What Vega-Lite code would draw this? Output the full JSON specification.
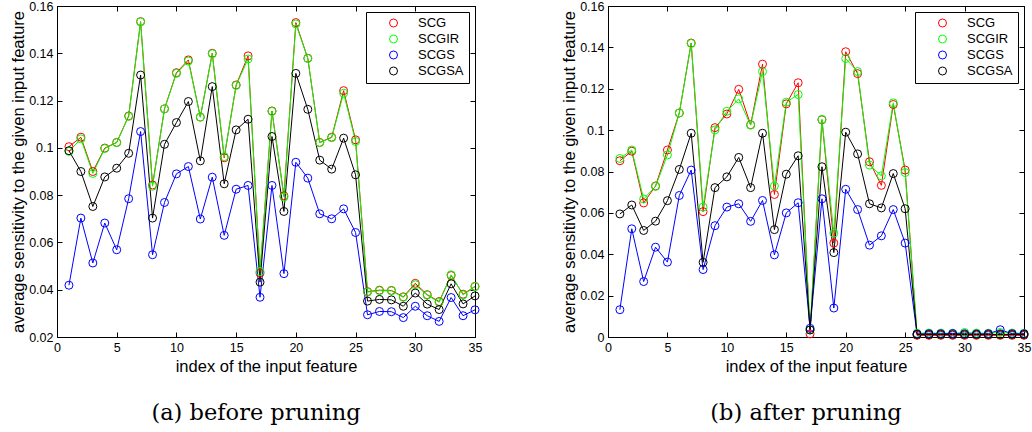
{
"$schema": "https://vega.github.io/schema/vega-lite/v6.json",
"background": "white",
"padding": {"left": 10, "top": -1, "right": 2, "bottom": 5},
"spacing": 78,
"resolve": {"scale": {"color": "independent"}, "legend": {"color": "independent"}},
"config": {
  "view": {"stroke": "black", "strokeWidth": 1},
  "font": "Liberation Sans",
  "axis": {"grid": false, "tickSize": -5, "tickColor": "black", "tickWidth": 1, "domainColor": "black", "domainWidth": 1, "labelColor": "black", "titleColor": "black", "labelFont": "Liberation Sans", "labelFontSize": 12.5, "titleFont": "Liberation Sans", "titleFontSize": 16.5, "titleFontWeight": "normal", "labelPadding": 9, "labelFlush": false, "labelOverlap": false},
  "axisX": {"titlePadding": 5},
  "axisY": {"titlePadding": 2},
  "legend": {"orient": "top-right", "offset": 6, "strokeColor": "black", "strokeWidth": 1, "fillColor": "white", "padding": 5, "symbolOffset": 16, "labelOffset": 18, "labelFont": "Liberation Sans", "labelFontSize": 13, "labelColor": "black", "symbolType": "circle", "symbolSize": 64, "symbolStrokeWidth": 1, "symbolFillColor": "transparent", "rowPadding": 3, "clipHeight": 12},
  "title": {"orient": "bottom", "font": "DejaVu Serif", "fontSize": 22.5, "fontWeight": "normal", "color": "black", "offset": 27, "anchor": "middle", "frame": "group", "dx": -10}
},
"datasets": {
"before": [
{"feature":1,"method":"SCG","value":0.1005},{"feature":2,"method":"SCG","value":0.1045},{"feature":3,"method":"SCG","value":0.0900},{"feature":4,"method":"SCG","value":0.0999},{"feature":5,"method":"SCG","value":0.1023},{"feature":6,"method":"SCG","value":0.1135},{"feature":7,"method":"SCG","value":0.1534},{"feature":8,"method":"SCG","value":0.0843},{"feature":9,"method":"SCG","value":0.1165},{"feature":10,"method":"SCG","value":0.1318},{"feature":11,"method":"SCG","value":0.1372},{"feature":12,"method":"SCG","value":0.1130},{"feature":13,"method":"SCG","value":0.1400},{"feature":14,"method":"SCG","value":0.0958},{"feature":15,"method":"SCG","value":0.1266},{"feature":16,"method":"SCG","value":0.1389},{"feature":17,"method":"SCG","value":0.0470},{"feature":18,"method":"SCG","value":0.1156},{"feature":19,"method":"SCG","value":0.0797},{"feature":20,"method":"SCG","value":0.1530},{"feature":21,"method":"SCG","value":0.1379},{"feature":22,"method":"SCG","value":0.1023},{"feature":23,"method":"SCG","value":0.1045},{"feature":24,"method":"SCG","value":0.1242},{"feature":25,"method":"SCG","value":0.1034},{"feature":26,"method":"SCG","value":0.0392},{"feature":27,"method":"SCG","value":0.0398},{"feature":28,"method":"SCG","value":0.0397},{"feature":29,"method":"SCG","value":0.0370},{"feature":30,"method":"SCG","value":0.0427},{"feature":31,"method":"SCG","value":0.0379},{"feature":32,"method":"SCG","value":0.0350},{"feature":33,"method":"SCG","value":0.0460},{"feature":34,"method":"SCG","value":0.0381},{"feature":35,"method":"SCG","value":0.0414},
{"feature":1,"method":"SCGIR","value":0.0985},{"feature":2,"method":"SCGIR","value":0.1038},{"feature":3,"method":"SCGIR","value":0.0892},{"feature":4,"method":"SCGIR","value":0.0997},{"feature":5,"method":"SCGIR","value":0.1022},{"feature":6,"method":"SCGIR","value":0.1133},{"feature":7,"method":"SCGIR","value":0.1533},{"feature":8,"method":"SCGIR","value":0.0838},{"feature":9,"method":"SCGIR","value":0.1165},{"feature":10,"method":"SCGIR","value":0.1315},{"feature":11,"method":"SCGIR","value":0.1367},{"feature":12,"method":"SCGIR","value":0.1130},{"feature":13,"method":"SCGIR","value":0.1398},{"feature":14,"method":"SCGIR","value":0.0963},{"feature":15,"method":"SCGIR","value":0.1264},{"feature":16,"method":"SCGIR","value":0.1376},{"feature":17,"method":"SCGIR","value":0.0477},{"feature":18,"method":"SCGIR","value":0.1154},{"feature":19,"method":"SCGIR","value":0.0792},{"feature":20,"method":"SCGIR","value":0.1524},{"feature":21,"method":"SCGIR","value":0.1378},{"feature":22,"method":"SCGIR","value":0.1022},{"feature":23,"method":"SCGIR","value":0.1043},{"feature":24,"method":"SCGIR","value":0.1231},{"feature":25,"method":"SCGIR","value":0.1027},{"feature":26,"method":"SCGIR","value":0.0390},{"feature":27,"method":"SCGIR","value":0.0396},{"feature":28,"method":"SCGIR","value":0.0395},{"feature":29,"method":"SCGIR","value":0.0368},{"feature":30,"method":"SCGIR","value":0.0421},{"feature":31,"method":"SCGIR","value":0.0377},{"feature":32,"method":"SCGIR","value":0.0347},{"feature":33,"method":"SCGIR","value":0.0463},{"feature":34,"method":"SCGIR","value":0.0378},{"feature":35,"method":"SCGIR","value":0.0413},
{"feature":1,"method":"SCGS","value":0.0419},{"feature":2,"method":"SCGS","value":0.0703},{"feature":3,"method":"SCGS","value":0.0513},{"feature":4,"method":"SCGS","value":0.0682},{"feature":5,"method":"SCGS","value":0.0569},{"feature":6,"method":"SCGS","value":0.0785},{"feature":7,"method":"SCGS","value":0.1069},{"feature":8,"method":"SCGS","value":0.0548},{"feature":9,"method":"SCGS","value":0.0769},{"feature":10,"method":"SCGS","value":0.0890},{"feature":11,"method":"SCGS","value":0.0921},{"feature":12,"method":"SCGS","value":0.0699},{"feature":13,"method":"SCGS","value":0.0876},{"feature":14,"method":"SCGS","value":0.0630},{"feature":15,"method":"SCGS","value":0.0825},{"feature":16,"method":"SCGS","value":0.0841},{"feature":17,"method":"SCGS","value":0.0368},{"feature":18,"method":"SCGS","value":0.0841},{"feature":19,"method":"SCGS","value":0.0468},{"feature":20,"method":"SCGS","value":0.0939},{"feature":21,"method":"SCGS","value":0.0872},{"feature":22,"method":"SCGS","value":0.0721},{"feature":23,"method":"SCGS","value":0.0700},{"feature":24,"method":"SCGS","value":0.0742},{"feature":25,"method":"SCGS","value":0.0642},{"feature":26,"method":"SCGS","value":0.0294},{"feature":27,"method":"SCGS","value":0.0308},{"feature":28,"method":"SCGS","value":0.0307},{"feature":29,"method":"SCGS","value":0.0282},{"feature":30,"method":"SCGS","value":0.0330},{"feature":31,"method":"SCGS","value":0.0290},{"feature":32,"method":"SCGS","value":0.0266},{"feature":33,"method":"SCGS","value":0.0367},{"feature":34,"method":"SCGS","value":0.0290},{"feature":35,"method":"SCGS","value":0.0315},
{"feature":1,"method":"SCGSA","value":0.0988},{"feature":2,"method":"SCGSA","value":0.0900},{"feature":3,"method":"SCGSA","value":0.0752},{"feature":4,"method":"SCGSA","value":0.0877},{"feature":5,"method":"SCGSA","value":0.0914},{"feature":6,"method":"SCGSA","value":0.0977},{"feature":7,"method":"SCGSA","value":0.1308},{"feature":8,"method":"SCGSA","value":0.0703},{"feature":9,"method":"SCGSA","value":0.1015},{"feature":10,"method":"SCGSA","value":0.1107},{"feature":11,"method":"SCGSA","value":0.1196},{"feature":12,"method":"SCGSA","value":0.0945},{"feature":13,"method":"SCGSA","value":0.1259},{"feature":14,"method":"SCGSA","value":0.0848},{"feature":15,"method":"SCGSA","value":0.1076},{"feature":16,"method":"SCGSA","value":0.1121},{"feature":17,"method":"SCGSA","value":0.0432},{"feature":18,"method":"SCGSA","value":0.1048},{"feature":19,"method":"SCGSA","value":0.0731},{"feature":20,"method":"SCGSA","value":0.1315},{"feature":21,"method":"SCGSA","value":0.1163},{"feature":22,"method":"SCGSA","value":0.0948},{"feature":23,"method":"SCGSA","value":0.0910},{"feature":24,"method":"SCGSA","value":0.1041},{"feature":25,"method":"SCGSA","value":0.0886},{"feature":26,"method":"SCGSA","value":0.0352},{"feature":27,"method":"SCGSA","value":0.0359},{"feature":28,"method":"SCGSA","value":0.0357},{"feature":29,"method":"SCGSA","value":0.0330},{"feature":30,"method":"SCGSA","value":0.0386},{"feature":31,"method":"SCGSA","value":0.0339},{"feature":32,"method":"SCGSA","value":0.0316},{"feature":33,"method":"SCGSA","value":0.0425},{"feature":34,"method":"SCGSA","value":0.0340},{"feature":35,"method":"SCGSA","value":0.0374}
],
"after": [
{"feature":1,"method":"SCG","value":0.0852},{"feature":2,"method":"SCG","value":0.0898},{"feature":3,"method":"SCG","value":0.0648},{"feature":4,"method":"SCG","value":0.0730},{"feature":5,"method":"SCG","value":0.0904},{"feature":6,"method":"SCG","value":0.1083},{"feature":7,"method":"SCG","value":0.1421},{"feature":8,"method":"SCG","value":0.0606},{"feature":9,"method":"SCG","value":0.1012},{"feature":10,"method":"SCG","value":0.1078},{"feature":11,"method":"SCG","value":0.1197},{"feature":12,"method":"SCG","value":0.1026},{"feature":13,"method":"SCG","value":0.1319},{"feature":14,"method":"SCG","value":0.0689},{"feature":15,"method":"SCG","value":0.1127},{"feature":16,"method":"SCG","value":0.1229},{"feature":17,"method":"SCG","value":0.0015},{"feature":18,"method":"SCG","value":0.1050},{"feature":19,"method":"SCG","value":0.0454},{"feature":20,"method":"SCG","value":0.1379},{"feature":21,"method":"SCG","value":0.1273},{"feature":22,"method":"SCG","value":0.0847},{"feature":23,"method":"SCG","value":0.0733},{"feature":24,"method":"SCG","value":0.1124},{"feature":25,"method":"SCG","value":0.0807},{"feature":26,"method":"SCG","value":0.0008},{"feature":27,"method":"SCG","value":0.0008},{"feature":28,"method":"SCG","value":0.0008},{"feature":29,"method":"SCG","value":0.0008},{"feature":30,"method":"SCG","value":0.0008},{"feature":31,"method":"SCG","value":0.0008},{"feature":32,"method":"SCG","value":0.0008},{"feature":33,"method":"SCG","value":0.0008},{"feature":34,"method":"SCG","value":0.0008},{"feature":35,"method":"SCG","value":0.0008},
{"feature":1,"method":"SCGIR","value":0.0863},{"feature":2,"method":"SCGIR","value":0.0904},{"feature":3,"method":"SCGIR","value":0.0667},{"feature":4,"method":"SCGIR","value":0.0728},{"feature":5,"method":"SCGIR","value":0.0880},{"feature":6,"method":"SCGIR","value":0.1083},{"feature":7,"method":"SCGIR","value":0.1419},{"feature":8,"method":"SCGIR","value":0.0628},{"feature":9,"method":"SCGIR","value":0.1001},{"feature":10,"method":"SCGIR","value":0.1091},{"feature":11,"method":"SCGIR","value":0.1151},{"feature":12,"method":"SCGIR","value":0.1024},{"feature":13,"method":"SCGIR","value":0.1283},{"feature":14,"method":"SCGIR","value":0.0730},{"feature":15,"method":"SCGIR","value":0.1135},{"feature":16,"method":"SCGIR","value":0.1172},{"feature":17,"method":"SCGIR","value":0.0034},{"feature":18,"method":"SCGIR","value":0.1052},{"feature":19,"method":"SCGIR","value":0.0502},{"feature":20,"method":"SCGIR","value":0.1346},{"feature":21,"method":"SCGIR","value":0.1283},{"feature":22,"method":"SCGIR","value":0.0831},{"feature":23,"method":"SCGIR","value":0.0779},{"feature":24,"method":"SCGIR","value":0.1132},{"feature":25,"method":"SCGIR","value":0.0795},{"feature":26,"method":"SCGIR","value":0.0018},{"feature":27,"method":"SCGIR","value":0.0019},{"feature":28,"method":"SCGIR","value":0.0019},{"feature":29,"method":"SCGIR","value":0.0018},{"feature":30,"method":"SCGIR","value":0.0022},{"feature":31,"method":"SCGIR","value":0.0019},{"feature":32,"method":"SCGIR","value":0.0018},{"feature":33,"method":"SCGIR","value":0.0022},{"feature":34,"method":"SCGIR","value":0.0019},{"feature":35,"method":"SCGIR","value":0.0018},
{"feature":1,"method":"SCGS","value":0.0132},{"feature":2,"method":"SCGS","value":0.0523},{"feature":3,"method":"SCGS","value":0.0268},{"feature":4,"method":"SCGS","value":0.0434},{"feature":5,"method":"SCGS","value":0.0362},{"feature":6,"method":"SCGS","value":0.0684},{"feature":7,"method":"SCGS","value":0.0807},{"feature":8,"method":"SCGS","value":0.0326},{"feature":9,"method":"SCGS","value":0.0538},{"feature":10,"method":"SCGS","value":0.0628},{"feature":11,"method":"SCGS","value":0.0644},{"feature":12,"method":"SCGS","value":0.0559},{"feature":13,"method":"SCGS","value":0.0660},{"feature":14,"method":"SCGS","value":0.0397},{"feature":15,"method":"SCGS","value":0.0600},{"feature":16,"method":"SCGS","value":0.0649},{"feature":17,"method":"SCGS","value":0.0042},{"feature":18,"method":"SCGS","value":0.0668},{"feature":19,"method":"SCGS","value":0.0140},{"feature":20,"method":"SCGS","value":0.0714},{"feature":21,"method":"SCGS","value":0.0616},{"feature":22,"method":"SCGS","value":0.0444},{"feature":23,"method":"SCGS","value":0.0489},{"feature":24,"method":"SCGS","value":0.0616},{"feature":25,"method":"SCGS","value":0.0454},{"feature":26,"method":"SCGS","value":0.0015},{"feature":27,"method":"SCGS","value":0.0016},{"feature":28,"method":"SCGS","value":0.0016},{"feature":29,"method":"SCGS","value":0.0017},{"feature":30,"method":"SCGS","value":0.0016},{"feature":31,"method":"SCGS","value":0.0015},{"feature":32,"method":"SCGS","value":0.0016},{"feature":33,"method":"SCGS","value":0.0035},{"feature":34,"method":"SCGS","value":0.0016},{"feature":35,"method":"SCGS","value":0.0016},
{"feature":1,"method":"SCGSA","value":0.0595},{"feature":2,"method":"SCGSA","value":0.0638},{"feature":3,"method":"SCGSA","value":0.0515},{"feature":4,"method":"SCGSA","value":0.0560},{"feature":5,"method":"SCGSA","value":0.0659},{"feature":6,"method":"SCGSA","value":0.0810},{"feature":7,"method":"SCGSA","value":0.0985},{"feature":8,"method":"SCGSA","value":0.0361},{"feature":9,"method":"SCGSA","value":0.0722},{"feature":10,"method":"SCGSA","value":0.0774},{"feature":11,"method":"SCGSA","value":0.0868},{"feature":12,"method":"SCGSA","value":0.0722},{"feature":13,"method":"SCGSA","value":0.0985},{"feature":14,"method":"SCGSA","value":0.0519},{"feature":15,"method":"SCGSA","value":0.0787},{"feature":16,"method":"SCGSA","value":0.0876},{"feature":17,"method":"SCGSA","value":0.0034},{"feature":18,"method":"SCGSA","value":0.0823},{"feature":19,"method":"SCGSA","value":0.0408},{"feature":20,"method":"SCGSA","value":0.0990},{"feature":21,"method":"SCGSA","value":0.0885},{"feature":22,"method":"SCGSA","value":0.0644},{"feature":23,"method":"SCGSA","value":0.0624},{"feature":24,"method":"SCGSA","value":0.0790},{"feature":25,"method":"SCGSA","value":0.0620},{"feature":26,"method":"SCGSA","value":0.0012},{"feature":27,"method":"SCGSA","value":0.0012},{"feature":28,"method":"SCGSA","value":0.0012},{"feature":29,"method":"SCGSA","value":0.0012},{"feature":30,"method":"SCGSA","value":0.0012},{"feature":31,"method":"SCGSA","value":0.0012},{"feature":32,"method":"SCGSA","value":0.0012},{"feature":33,"method":"SCGSA","value":0.0012},{"feature":34,"method":"SCGSA","value":0.0012},{"feature":35,"method":"SCGSA","value":0.0012}
]
},
"hconcat": [
{
  "width": 418, "height": 331,
  "data": {"name": "before"},
  "title": {"text": "(a) before pruning"},
  "layer": [
    {"mark": {"type": "line", "strokeWidth": 1},
     "encoding": {
       "x": {"field": "feature", "type": "quantitative", "scale": {"domain": [0, 35], "nice": false, "zero": false}, "axis": {"title": "index of the input feature", "values": [0,5,10,15,20,25,30,35], "format": "d"}},
       "y": {"field": "value", "type": "quantitative", "scale": {"domain": [0.02, 0.16], "nice": false, "zero": false}, "axis": {"title": "average sensitivity to the given input feature", "values": [0.02,0.04,0.06,0.08,0.1,0.12,0.14,0.16], "format": "~g"}},
       "color": {"field": "method", "type": "nominal", "scale": {"domain": ["SCG","SCGIR","SCGS","SCGSA"], "range": ["#ff0000","#00ff00","#0000ff","#000000"]}, "legend": {"title": null, "symbolType": "circle", "symbolFillColor": "transparent", "symbolStrokeWidth": 1, "symbolSize": 64}}
     }},
    {"mark": {"type": "point", "filled": false, "size": 64, "strokeWidth": 1, "opacity": 1},
     "encoding": {
       "x": {"field": "feature", "type": "quantitative", "axis": {"orient": "top", "labels": false, "title": null, "values": [0,5,10,15,20,25,30,35]}},
       "y": {"field": "value", "type": "quantitative", "axis": {"orient": "right", "labels": false, "title": null, "values": [0.02,0.04,0.06,0.08,0.1,0.12,0.14,0.16]}},
       "color": {"field": "method", "type": "nominal", "legend": {"title": null, "symbolType": "circle", "symbolFillColor": "transparent", "symbolStrokeWidth": 1, "symbolSize": 64}}
     }}
  ],
  "resolve": {"axis": {"x": "independent", "y": "independent"}}
},
{
  "width": 416, "height": 331,
  "data": {"name": "after"},
  "title": {"text": "(b) after pruning"},
  "layer": [
    {"mark": {"type": "line", "strokeWidth": 1},
     "encoding": {
       "x": {"field": "feature", "type": "quantitative", "scale": {"domain": [0, 35], "nice": false, "zero": false}, "axis": {"title": "index of the input feature", "values": [0,5,10,15,20,25,30,35], "format": "d"}},
       "y": {"field": "value", "type": "quantitative", "scale": {"domain": [0, 0.16], "nice": false, "zero": false}, "axis": {"title": "average sensitivity to the given input feature", "values": [0,0.02,0.04,0.06,0.08,0.1,0.12,0.14,0.16], "format": "~g"}},
       "color": {"field": "method", "type": "nominal", "scale": {"domain": ["SCG","SCGIR","SCGS","SCGSA"], "range": ["#ff0000","#00ff00","#0000ff","#000000"]}, "legend": {"title": null, "symbolType": "circle", "symbolFillColor": "transparent", "symbolStrokeWidth": 1, "symbolSize": 64}}
     }},
    {"mark": {"type": "point", "filled": false, "size": 64, "strokeWidth": 1, "opacity": 1},
     "encoding": {
       "x": {"field": "feature", "type": "quantitative", "axis": {"orient": "top", "labels": false, "title": null, "values": [0,5,10,15,20,25,30,35]}},
       "y": {"field": "value", "type": "quantitative", "axis": {"orient": "right", "labels": false, "title": null, "values": [0,0.02,0.04,0.06,0.08,0.1,0.12,0.14,0.16]}},
       "color": {"field": "method", "type": "nominal", "legend": {"title": null, "symbolType": "circle", "symbolFillColor": "transparent", "symbolStrokeWidth": 1, "symbolSize": 64}}
     }}
  ],
  "resolve": {"axis": {"x": "independent", "y": "independent"}}
}
]
}
